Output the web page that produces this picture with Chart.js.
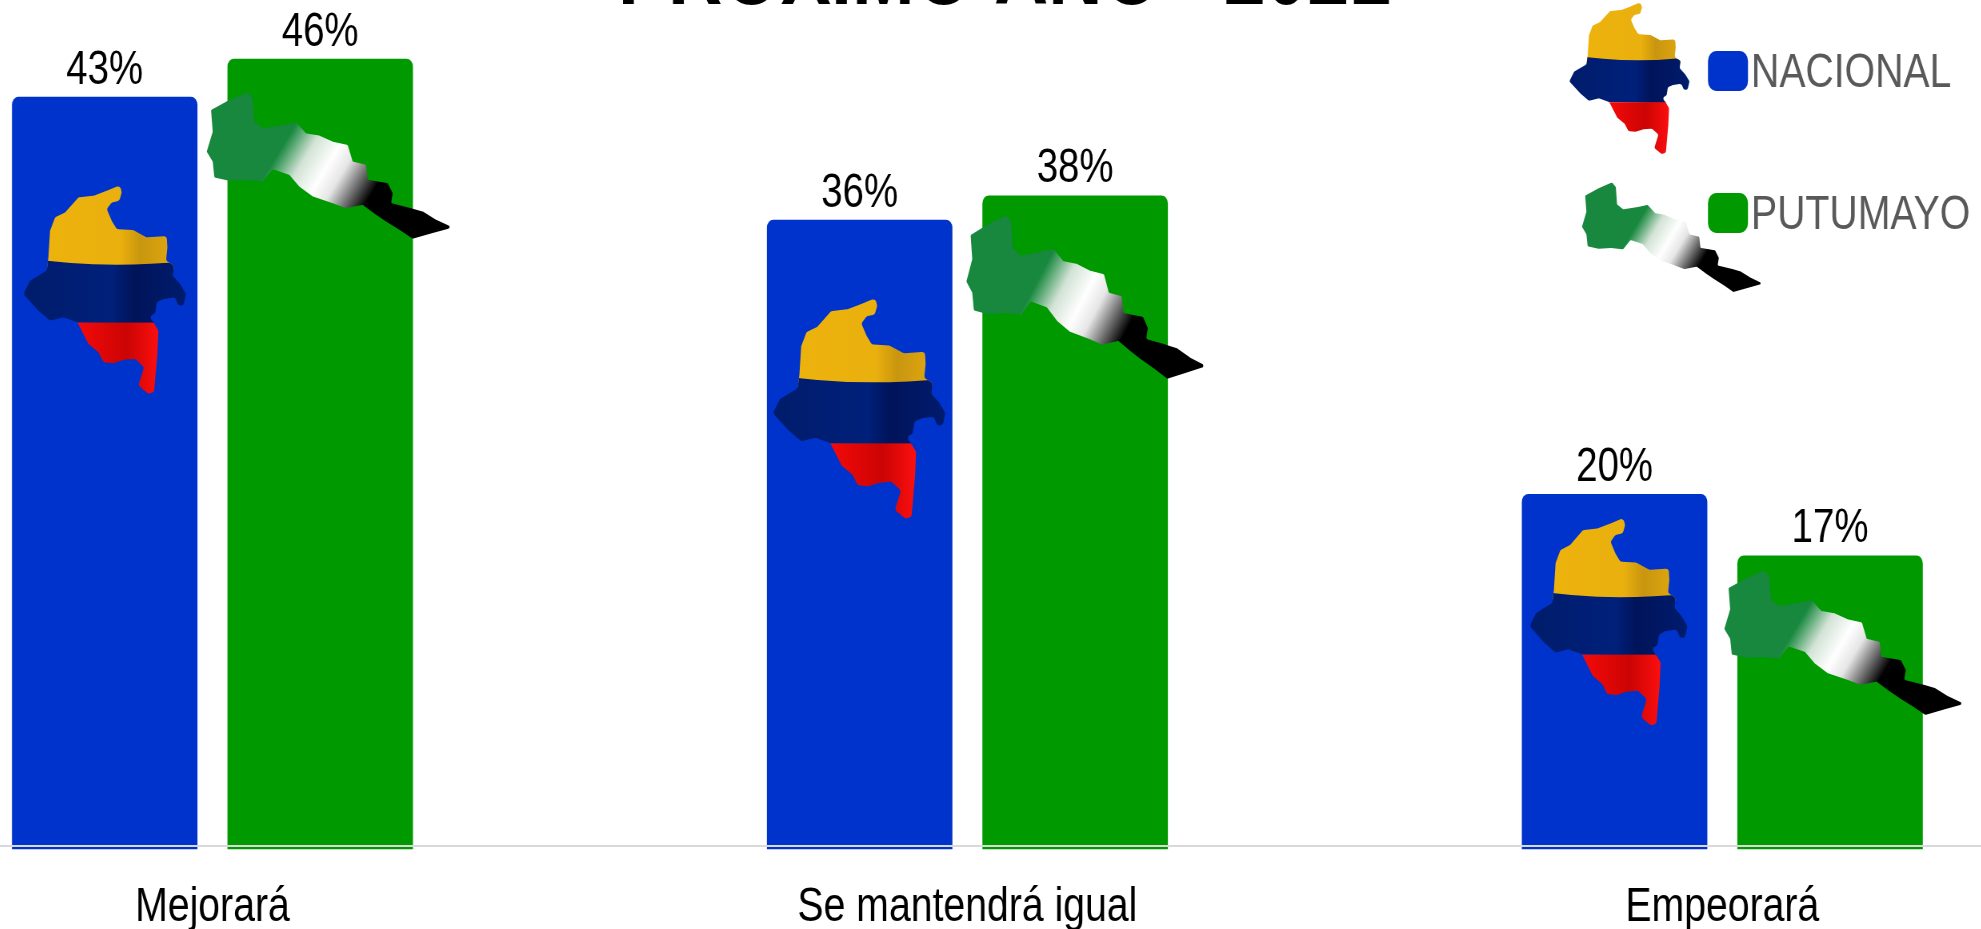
<!DOCTYPE html>
<html>
<head>
<meta charset="utf-8">
<title>Próximo año</title>
<script src="https://cdn.jsdelivr.net/npm/chart.js@4"></script>
<style>
    html, body { margin: 0; width: 1981px; height: 929px; overflow: hidden; background: #fff; }
    /* the source picture is squeezed sideways, text included */
    #chart { position: absolute; left: -165px; top: -68px; transform-origin: 0 0; transform: scaleX(0.8); }
</style>
</head>
<body>
<canvas id="chart" width="2831" height="1037"></canvas>
<script>
const categories = ['Mejorará', 'Se mantendrá igual', 'Empeorará'];
const nacional = [43.3, 36.2, 20.35];
const putumayo = [45.5, 37.6, 16.8];
const seriesNames = ['NACIONAL', 'PUTUMAYO'];
const seriesColors = ['#0033cc', '#009900'];
const titleText = 'PRÓXIMO AÑO «2021»';

const squeeze = 0.8;
const canvasLeft = 165;
const canvasTop = 68;
const fontName = '"Liberation Sans", Arial, sans-serif';

// outlines
const colombiaShape = [[360,553],[365,575],[358,600],[335,605],[320,625],[335,660],[350,685],[400,688],[440,710],[500,706],[502,740],[498,780],[522,795],[518,825],[540,850],[558,880],[550,915],[535,915],[525,890],[490,895],[470,905],[465,940],[445,945],[462,968],[475,990],[472,1060],[462,1175],[445,1180],[415,1155],[432,1100],[405,1075],[370,1078],[340,1088],[310,1085],[295,1055],[265,1030],[232,965],[190,950],[150,960],[115,930],[70,880],[90,840],[140,810],[145,770],[150,690],[165,650],[195,635],[235,590],[280,585],[320,570]];
const putumayoShape = [[745,282],[760,300],[765,370],[790,390],[850,380],[890,372],[920,405],[960,412],[1000,430],[1045,440],[1060,490],[1100,500],[1105,545],[1165,555],[1180,585],[1175,615],[1235,630],[1270,640],[1310,665],[1360,688],[1300,705],[1240,722],[1200,695],[1160,670],[1130,650],[1090,620],[1040,630],[1000,615],[940,595],[900,565],[870,530],[820,513],[790,550],[740,545],[690,548],[645,538],[640,490],[622,460],[640,400],[635,335],[690,305]];

// map pictures sitting on the bars, offset from the top centre of each bar
const colombiaSpots = [[-83, 88, 165, 209], [-88.5, 78, 175, 221], [-86.5, 23.5, 160, 208]];
const putumayoSpots = [[-113.5, 33, 246, 147], [-108.75, 19.3, 240, 164], [-105.75, 14.5, 240, 145]];

function tracePath(ctx, shape, corner) {
    ctx.beginPath();
    const last = shape[shape.length - 1];
    ctx.moveTo((last[0] + shape[0][0]) / 2, (last[1] + shape[0][1]) / 2);
    shape.forEach((p, i) => {
        const next = shape[(i + 1) % shape.length];
        ctx.arcTo(p[0], p[1], next[0], next[1], corner);
    });
    ctx.closePath();
}

function drawColombia(ctx, x, y, w, h) {
    ctx.save();
    ctx.translate(x, y);
    ctx.scale(w / squeeze / 495, h / 628);
    ctx.translate(-65, -552);
    tracePath(ctx, colombiaShape, 10);
    ctx.clip();

    let yellow = ctx.createLinearGradient(65, 0, 560, 0);
    yellow.addColorStop(0, '#eeb30c');
    yellow.addColorStop(0.6, '#eab00e');
    yellow.addColorStop(0.72, '#c9960f');
    yellow.addColorStop(1, '#e8ae10');
    ctx.fillStyle = yellow;
    ctx.fillRect(60, 545, 510, 260);

    let blue = ctx.createLinearGradient(65, 0, 560, 0);
    blue.addColorStop(0, '#001c6b');
    blue.addColorStop(0.55, '#00207a');
    blue.addColorStop(0.68, '#00145a');
    blue.addColorStop(1, '#001c6e');
    ctx.fillStyle = blue;
    ctx.beginPath();
    ctx.moveTo(60, 768);
    ctx.quadraticCurveTo(300, 810, 570, 780);
    ctx.lineTo(570, 972);
    ctx.lineTo(60, 962);
    ctx.closePath();
    ctx.fill();

    let red = ctx.createLinearGradient(230, 0, 480, 0);
    red.addColorStop(0, '#f50a0a');
    red.addColorStop(0.6, '#cc0404');
    red.addColorStop(1, '#ff1010');
    ctx.fillStyle = red;
    ctx.fillRect(60, 966, 510, 220);
    ctx.restore();
}

function drawPutumayo(ctx, x, y, w, h) {
    ctx.save();
    ctx.translate(x, y);
    ctx.scale(w / squeeze / 738, h / 442);
    ctx.translate(-622, -280);
    tracePath(ctx, putumayoShape, 5);
    let fade = ctx.createLinearGradient(830, 420, 1130, 600);
    fade.addColorStop(0.08, '#17883d');
    fade.addColorStop(0.3, '#d3e3d6');
    fade.addColorStop(0.5, '#ffffff');
    fade.addColorStop(0.64, '#e6e6e6');
    fade.addColorStop(0.95, '#000000');
    ctx.fillStyle = fade;
    ctx.fill();
    ctx.restore();
}

const mapPictures = {
    id: 'mapPictures',
    afterDatasetsDraw(chart) {
        const ctx = chart.ctx;
        chart.getDatasetMeta(0).data.forEach((bar, i) => {
            const s = colombiaSpots[i];
            drawColombia(ctx, bar.x + s[0] / squeeze, bar.y + s[1], s[2], s[3]);
        });
        chart.getDatasetMeta(1).data.forEach((bar, i) => {
            const s = putumayoSpots[i];
            drawPutumayo(ctx, bar.x + s[0] / squeeze, bar.y + s[1], s[2], s[3]);
        });
    }
};

const valueLabels = {
    id: 'valueLabels',
    afterDatasetsDraw(chart) {
        const ctx = chart.ctx;
        ctx.save();
        ctx.font = '48px ' + fontName;
        ctx.fillStyle = '#000';
        ctx.textAlign = 'center';
        ctx.textBaseline = 'alphabetic';
        chart.data.datasets.forEach((ds, d) => {
            chart.getDatasetMeta(d).data.forEach((bar, i) => {
                ctx.fillText(ds.data[i].toFixed(0) + '%', bar.x, bar.y - 13);
            });
        });
        ctx.restore();
    }
};

function toCanvasX(screenX) {
    return (screenX + canvasLeft) / squeeze;
}

// legend sits top right with its own map beside each key
const mapLegend = {
    id: 'mapLegend',
    afterDraw(chart) {
        const ctx = chart.ctx;
        drawColombia(ctx, toCanvasX(1568), 2 + canvasTop, 122, 152);
        drawPutumayo(ctx, toCanvasX(1582), 182 + canvasTop, 181, 110);
        ctx.save();
        ctx.font = '49px ' + fontName;
        ctx.textBaseline = 'alphabetic';
        chart.data.datasets.forEach((ds, d) => {
            const top = (d === 0 ? 51 : 193) + canvasTop;
            ctx.fillStyle = ds.backgroundColor;
            ctx.beginPath();
            ctx.roundRect(toCanvasX(1708), top, 40 / squeeze, 40, 10);
            ctx.fill();
            ctx.fillStyle = '#595959';
            ctx.fillText(ds.label, toCanvasX(1751), top + 36);
        });
        ctx.restore();
    }
};

// title in the source is off centre from the plot
const titleShift = {
    id: 'titleShift',
    afterLayout(chart) {
        chart.titleBlock.left += 72.5;
        chart.titleBlock.right += 72.5;
    }
};

new Chart(document.getElementById('chart'), {
    type: 'bar',
    data: {
        labels: categories,
        datasets: [nacional, putumayo].map((values, i) => ({
            label: seriesNames[i],
            data: values,
            backgroundColor: seriesColors[i],
            borderRadius: 8,
            base: -0.17,
            clip: false,
            categoryPercentage: 0.5709,
            barPercentage: 0.8608
        }))
    },
    plugins: [titleShift, mapPictures, valueLabels, mapLegend],
    options: {
        responsive: false,
        animation: false,
        layout: { padding: 0 },
        scales: {
            x: {
                grid: { display: false, drawTicks: false },
                border: { display: true, color: '#d9d9d9', width: 2, z: 1 },
                ticks: {
                    color: '#000',
                    padding: 32,
                    maxRotation: 0,
                    autoSkip: false,
                    font: { family: fontName, size: 49 }
                }
            },
            y: { display: false, min: 0, max: 47.5 }
        },
        plugins: {
            legend: { display: false },
            tooltip: { enabled: false },
            title: {
                display: true,
                text: titleText,
                color: '#000',
                padding: 0,
                font: { family: fontName, size: 94, weight: 'bold', lineHeight: 0.98 }
            }
        }
    }
});
</script>
</body>
</html>
